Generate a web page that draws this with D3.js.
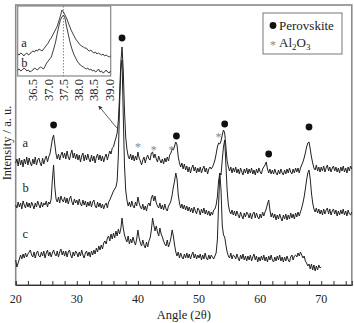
<!DOCTYPE html>
<html>
<head>
<meta charset="utf-8">
<script src="https://cdn.jsdelivr.net/npm/d3@7"></script>
<style>
  body { margin: 0; background: #fff; }
  svg { display: block; }
  text { fill: #222; }
</style>
</head>
<body>
<script>
// XRD patterns, 20-75 deg, step 0.2 (c stops at 70)
var angleStart = 20, angleStep = 0.2;

var patternA = [
  122,126,119,127,120,125,118,126,121,128,
  120,127,122,119,126,121,128,120,125,127,
  122,119,127,121,126,129,123,128,131,138,
  146,150,141,131,126,131,125,130,133,127,
  132,126,134,128,125,131,135,127,132,126,
  131,125,130,123,129,132,124,130,125,131,
  126,123,130,124,129,122,128,131,125,130,
  124,129,123,128,131,125,130,134,131,137,
  138,143,147,152,165,190,222,238,215,175,
  148,136,129,126,131,125,130,124,129,125,
  133,127,124,120,125,128,122,127,130,126,
  125,132,133,127,131,126,123,129,125,122,
  126,121,127,123,128,124,130,132,136,135,
  139,143,140,128,122,118,122,116,121,115,
  119,113,118,112,117,120,114,118,112,117,
  113,118,112,116,119,113,117,111,116,118,
  116,118,121,125,131,138,142,141,144,150,
  155,152,138,124,118,114,118,112,117,113,
  118,112,116,111,117,113,110,116,112,117,
  111,116,112,117,111,115,110,116,112,117,
  113,111,116,118,120,123,116,112,116,111,
  115,111,116,112,110,115,111,116,112,110,
  115,111,116,112,117,113,111,116,112,117,
  113,117,112,117,120,123,127,132,138,142,
  143,136,128,122,117,115,120,114,118,113,
  118,114,119,113,117,120,114,118,113,117,
  119,114,118,113,117,112,118,114,119,113,
  117,112,118,114,119,116
];

var patternB = [
  80,77,83,78,82,76,84,80,77,83,
  78,82,77,83,80,76,82,78,84,80,
  77,83,78,82,80,84,78,83,81,86,
  105,120,98,86,83,88,82,89,85,83,
  88,82,87,81,86,89,83,80,86,82,
  85,80,86,81,79,85,80,84,78,83,
  79,84,78,83,85,79,77,83,78,82,
  77,81,76,80,82,77,83,85,88,91,
  94,96,98,104,130,180,215,225,170,120,
  95,85,79,83,78,84,79,77,83,79,
  88,82,78,76,81,75,79,74,80,82,
  79,87,90,84,89,82,79,77,82,76,
  80,75,81,76,74,79,81,84,90,98,
  104,112,106,90,82,77,81,76,80,75,
  79,74,78,73,77,72,78,74,71,77,
  75,70,76,72,77,71,75,70,74,69,
  73,70,75,76,80,88,104,112,110,125,
  138,145,120,95,80,74,71,75,70,74,
  69,74,70,67,73,69,66,72,68,73,
  71,67,72,66,71,73,67,72,68,66,
  71,67,73,69,73,76,81,85,75,68,
  72,67,71,65,70,66,71,67,64,70,
  66,71,65,70,66,72,67,71,66,72,
  68,73,69,73,77,82,88,96,105,112,
  115,106,92,82,76,73,77,72,76,71,
  75,70,76,71,75,77,71,76,70,74,
  76,71,75,69,74,70,75,71,76,70,
  74,69,75,71,70,73
];

var patternC = [
  25,18,22,26,30,26,31,27,32,28,
  31,33,35,30,28,33,27,32,34,29,
  28,33,29,34,27,32,35,29,33,28,
  32,35,31,29,34,28,33,36,30,34,
  29,34,28,33,35,30,27,33,29,34,
  32,28,33,29,35,30,27,32,34,29,
  33,28,34,30,35,31,37,33,39,35,
  40,36,42,44,41,47,49,44,51,46,
  52,47,54,49,56,51,56,67,57,50,
  46,43,49,41,46,42,48,43,40,46,
  55,47,42,39,45,40,37,43,38,44,
  47,55,67,60,54,59,53,49,57,51,
  48,44,41,39,45,38,42,47,55,49,
  40,33,29,33,27,32,28,26,31,27,
  32,27,31,26,30,33,27,31,26,30,
  27,31,25,30,26,32,27,25,30,26,
  30,28,26,29,32,45,80,112,95,60,
  50,48,40,33,29,27,32,26,30,29,
  26,31,27,24,30,26,31,25,29,24,
  29,25,30,24,28,31,25,29,23,28,
  24,29,25,30,24,28,23,29,25,30,
  25,23,28,24,29,25,30,24,28,23,
  28,24,29,25,23,28,30,25,29,30,
  28,32,29,33,30,27,29,24,22,19,
  21,16,21,15,20,14,19,15,20,17,
  18
];

var patternLabels = ["a", "b", "c"];
var labelLevels = [138, 93, 47];

// phase markers: angle, height
var perovskitePeaks = [26.2, 37.4, 46.3, 54.2, 61.4, 68.0];
var perovskiteHeights = [160, 247, 149, 161, 131, 158];
var aluminaPeaks = [40.0, 42.6, 45.5, 53.2];
var aluminaHeights = [140, 137, 137, 150];

var xTicks = [20, 30, 40, 50, 60, 70];

// inset: zoom of the main peak, step 0.05 from 36.0
var insetStart = 36.0, insetStep = 0.05;
var insetA = [
  22,21,23,22,20,22,23,21,22,24,
  25,24,26,25,27,26,25,27,29,31,
  33,36,38,41,44,47,50,55,60,66,
  64,61,58,54,50,46,43,40,37,35,
  33,31,30,29,28,28,26,25,26,24,
  23,24,22,23,22,21,22,20,21,20,
  19,20
];
var insetB = [
  6,7,5,6,8,7,5,6,4,5,
  6,8,7,6,8,9,8,7,10,13,
  15,17,19,24,29,35,43,50,56,59,
  61,58,50,43,36,30,25,21,18,15,
  13,11,10,9,8,7,8,6,7,5,
  6,4,5,7,4,5,3,4,6,4,
  3,5
];
var insetTicks = [36.5, 37.0, 37.5, 38.0, 38.5, 39.0];
var insetTickLabels = ["36.5", "37.0", "37.5", "38.0", "38.5", "39.0"];
var insetLabelLevels = [33, 13];

var width = 354, height = 323;

var svg = d3.select("body").append("svg")
    .attr("width", width)
    .attr("height", height)
    .attr("font-family", "'Liberation Serif', 'Times New Roman', serif");

var x = d3.scaleLinear().domain([20, 75]).range([15.7, 351.8]);
var y = d3.scaleLinear().domain([0, 280]).range([285, 5]);

function toPoints(arr, start, step) {
  return arr.map(function(v, i) { return [start + i * step, v]; });
}

var line = d3.line()
    .x(function(d) { return x(d[0]); })
    .y(function(d) { return y(d[1]); });

// frame
svg.append("rect")
    .attr("x", x(20)).attr("y", y(280))
    .attr("width", x(75) - x(20)).attr("height", y(0) - y(280))
    .attr("fill", "none")
    .attr("stroke", "#8a8a8a")
    .attr("stroke-width", 1.6);

// x axis, minor ticks every 2 deg pointing inward
var xAxis = svg.append("g")
    .attr("transform", "translate(0," + y(0) + ")")
    .call(d3.axisBottom(x).tickValues(d3.range(20, 75, 2)).tickSize(-4).tickFormat(""));
xAxis.select(".domain").attr("stroke", "#333");
xAxis.selectAll(".tick line").attr("stroke", "#333");

svg.append("g").selectAll("text")
    .data(xTicks)
  .enter().append("text")
    .attr("x", function(d) { return x(d); })
    .attr("y", 303)
    .attr("text-anchor", "middle")
    .style("font-size", "12px")
    .text(function(d) { return d; });

svg.append("text")
    .attr("x", x(47.5))
    .attr("y", 319)
    .attr("text-anchor", "middle")
    .style("font-size", "12.5px")
    .text("Angle (2\u03b8)");

svg.append("text")
    .attr("transform", "translate(11,143) rotate(-90)")
    .attr("text-anchor", "middle")
    .style("font-size", "12.5px")
    .text("Intensity / a. u.");

// patterns
[patternA, patternB, patternC].forEach(function(p) {
  svg.append("path")
      .datum(toPoints(p, angleStart, angleStep))
      .attr("fill", "none")
      .attr("stroke", "#222")
      .attr("stroke-width", 1)
      .attr("d", line);
});

svg.append("g").selectAll("text")
    .data(patternLabels)
  .enter().append("text")
    .attr("x", x(21.1))
    .attr("y", function(d, i) { return y(labelLevels[i]); })
    .style("font-size", "12.5px")
    .text(function(d) { return d; });

// phase markers
svg.append("g").selectAll("circle")
    .data(perovskitePeaks)
  .enter().append("circle")
    .attr("cx", function(d) { return x(d); })
    .attr("cy", function(d, i) { return y(perovskiteHeights[i]); })
    .attr("r", 3.4)
    .attr("fill", "#111");

svg.append("g").selectAll("text")
    .data(aluminaPeaks)
  .enter().append("text")
    .attr("x", function(d) { return x(d); })
    .attr("y", function(d, i) { return y(aluminaHeights[i]) + 6; })
    .attr("text-anchor", "middle")
    .style("font-size", "12px")
    .style("fill", "#888")
    .text("*");

// legend
var legend = svg.append("g").attr("transform", "translate(263,13)");
legend.append("rect")
    .attr("width", 79).attr("height", 41)
    .attr("fill", "#fff")
    .attr("stroke", "#777")
    .attr("stroke-width", 1);
legend.append("circle")
    .attr("cx", 10).attr("cy", 12.5).attr("r", 3.4)
    .attr("fill", "#111");
legend.append("text")
    .attr("x", 16).attr("y", 17)
    .style("font-size", "13px")
    .text("Perovskite");
legend.append("text")
    .attr("x", 10).attr("y", 36)
    .attr("text-anchor", "middle")
    .style("font-size", "12px")
    .style("fill", "#888")
    .text("*");
var al = legend.append("text")
    .attr("x", 16).attr("y", 34)
    .style("font-size", "13px");
al.append("tspan").text("Al");
al.append("tspan").attr("dy", 3).style("font-size", "9px").text("2");
al.append("tspan").attr("dy", -3).text("O");
al.append("tspan").attr("dy", 3).style("font-size", "9px").text("3");

// arrow from main peak to inset
svg.append("defs").append("marker")
    .attr("id", "head")
    .attr("viewBox", "0 0 10 10")
    .attr("refX", 9).attr("refY", 5)
    .attr("markerWidth", 5).attr("markerHeight", 5)
    .attr("orient", "auto")
  .append("path")
    .attr("d", "M0,0L10,5L0,10z")
    .attr("fill", "#333");

svg.append("line")
    .attr("x1", x(36.55)).attr("y1", y(157))
    .attr("x2", x(33.6)).attr("y2", y(179))
    .attr("stroke", "#333")
    .attr("stroke-width", 0.8)
    .attr("marker-end", "url(#head)");

// inset
var xi = d3.scaleLinear().domain([36.0, 39.05]).range([17.7, 110.7]);
var yi = d3.scaleLinear().domain([0, 70]).range([76, 6]);

var inset = svg.append("g");
inset.append("rect")
    .attr("x", xi(36.0)).attr("y", yi(70))
    .attr("width", xi(39.05) - xi(36.0)).attr("height", yi(0) - yi(70))
    .attr("fill", "#fff")
    .attr("stroke", "#888")
    .attr("stroke-width", 1.2);

inset.append("line")
    .attr("x1", xi(37.5)).attr("x2", xi(37.5))
    .attr("y1", yi(70)).attr("y2", yi(0))
    .attr("stroke", "#666")
    .attr("stroke-width", 0.8)
    .attr("stroke-dasharray", "1.5,1.5");

var insetLine = d3.line()
    .x(function(d) { return xi(d[0]); })
    .y(function(d) { return yi(d[1]); });

[insetA, insetB].forEach(function(p) {
  inset.append("path")
      .datum(toPoints(p, insetStart, insetStep))
      .attr("fill", "none")
      .attr("stroke", "#2a2a2a")
      .attr("stroke-width", 0.9)
      .attr("d", insetLine);
});

inset.selectAll(".lab")
    .data(["a", "b"])
  .enter().append("text")
    .attr("x", xi(36.12))
    .attr("y", function(d, i) { return yi(insetLabelLevels[i]) + 4; })
    .style("font-size", "12.5px")
    .text(function(d) { return d; });

inset.selectAll(".tl")
    .data(insetTicks)
  .enter().append("text")
    .attr("transform", function(d) { return "translate(" + xi(d) + ",79) rotate(-90)"; })
    .attr("dy", "0.35em")
    .attr("text-anchor", "end")
    .style("font-size", "12.5px")
    .text(function(d, i) { return insetTickLabels[i]; });
</script>
</body>
</html>
